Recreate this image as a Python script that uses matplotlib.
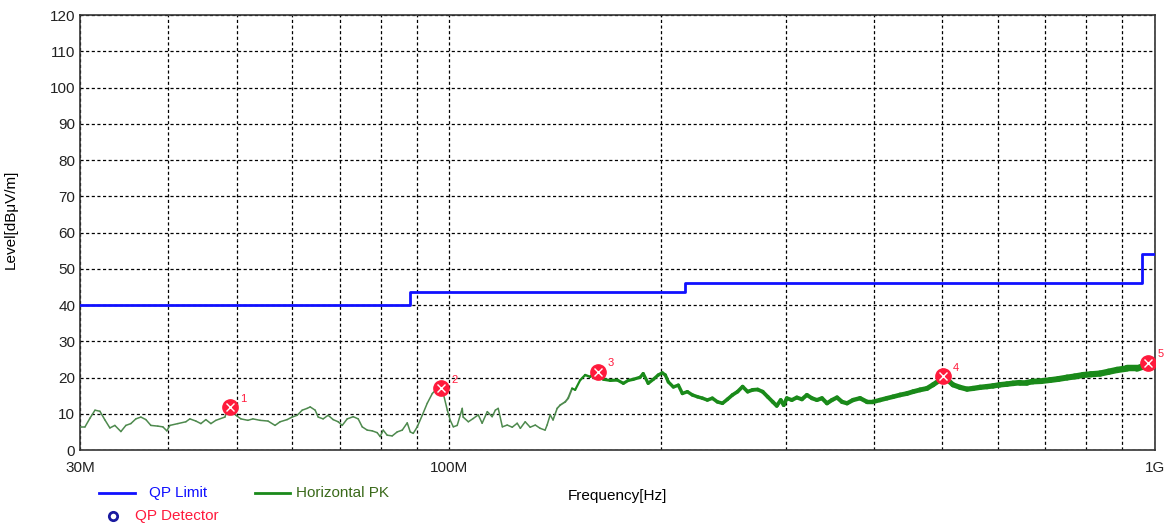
import numpy as np
import matplotlib
matplotlib.use("Agg")
import matplotlib.pyplot as plt
from matplotlib import ticker
from matplotlib.lines import Line2D
from matplotlib.collections import LineCollection

plt.rcParams['font.family'] = ['Liberation Sans', 'DejaVu Sans']

# QP limit (FCC class B style steps), MHz / dBuV/m
limit_freq = [30, 88, 88, 216, 216, 960, 960, 1000]
limit_level = [40, 40, 43.5, 43.5, 46, 46, 54, 54]

# Horizontal PK trace, MHz / dBuV/m
pk_freq = [30.0, 30.49, 30.99, 31.50, 32.01, 32.54, 33.07, 33.61, 34.28, 34.84,
           35.41, 35.99, 36.59, 37.19, 37.80, 38.67, 39.31, 39.82, 40.22, 41.28,
           42.37, 42.93, 43.78, 44.50, 45.23, 45.98, 46.73, 48.13, 48.60, 49.40,
           49.88, 50.71, 51.87, 52.73, 53.97, 55.40, 56.68, 57.62, 58.97, 59.94,
           60.93, 61.93, 62.95, 63.57, 64.61, 65.25, 66.31, 67.40, 68.51, 69.65,
           70.57, 71.73, 73.15, 74.35, 75.33, 76.57, 77.82, 79.10, 79.88, 80.67,
           81.72, 83.07, 84.43, 85.84, 87.25, 88.11, 88.98, 90.15, 91.63, 93.13,
           94.69, 96.24, 97.51, 98.14, 99.44, 100.4, 101.4, 102.7, 104.4, 104.7,
           106.5, 108.2, 110.0, 111.4, 113.3, 115.1, 116.3, 117.4, 119.0, 120.9,
           122.9, 124.9, 126.2, 128.2, 130.3, 132.5, 134.6, 136.8, 137.7, 139.1,
           140.4, 142.3, 143.7, 146.1, 147.5, 149.4, 150.9, 153.4, 155.9, 158.5,
           161.1, 162.7, 163.8, 165.4, 169.2, 173.2, 176.6, 179.4, 182.4, 186.6,
           188.4, 191.5, 194.7, 197.9, 200.5, 202.5, 204.5, 207.9, 211.3, 214.1,
           217.6, 221.2, 224.9, 228.6, 232.3, 236.1, 240.0, 244.0, 248.0, 252.1,
           256.3, 260.6, 264.9, 269.2, 273.7, 278.2, 282.8, 287.5, 291.3, 295.1,
           298.0, 301.0, 306.0, 311.0, 316.2, 321.4, 326.7, 332.1, 337.6, 343.2,
           348.8, 354.6, 360.4, 366.4, 373.6, 382.3, 391.1, 398.8, 408.0, 417.4,
           425.7, 435.5, 445.6, 454.4, 464.9, 475.6, 485.0, 496.2, 501.1, 507.7,
           517.7, 529.7, 542.0, 552.7, 565.5, 578.5, 590.0, 603.3, 617.3, 629.5,
           644.0, 658.9, 671.9, 690.0, 710.6, 730.0, 751.1, 770.0, 791.4, 812.0,
           836.5, 860.0, 884.1, 913.4, 943.7, 960.0, 977.9, 1000.0]
pk_level = [6.4, 6.4, 8.8, 11.0, 10.7, 8.3, 6.1, 6.8, 5.1, 6.8,
            7.3, 8.6, 9.1, 8.4, 6.8, 6.6, 6.4, 5.3, 6.8, 7.3,
            7.8, 8.6, 8.0, 7.3, 8.4, 7.3, 8.2, 9.1, 11.5, 11.9,
            9.6, 8.6, 8.2, 8.6, 8.2, 8.0, 6.8, 7.8, 8.4, 9.1,
            9.6, 11.0, 11.5, 11.9, 11.0, 9.1, 8.6, 9.6, 8.4, 7.8,
            6.8, 8.6, 9.2, 8.6, 6.4, 5.5, 5.3, 4.8, 3.7, 5.5,
            4.1, 3.9, 5.0, 5.5, 7.5, 5.0, 4.6, 6.4, 9.6, 12.9,
            15.6, 17.0, 17.2, 15.6, 11.0, 8.2, 6.4, 6.8, 11.5, 9.1,
            7.8, 8.7, 9.7, 7.4, 10.6, 9.2, 11.0, 11.5, 6.4, 6.9,
            6.3, 7.4, 6.0, 7.8, 6.3, 6.9, 6.0, 5.5, 6.9, 9.7,
            8.3, 11.5, 12.4, 13.3, 14.3, 17.0, 16.6, 19.3, 20.7, 20.2,
            21.6, 21.4, 21.1, 19.5, 19.2, 19.3, 18.4, 19.2, 19.5, 20.1,
            21.1, 18.4, 19.5, 20.7, 21.3, 20.7, 18.8, 17.4, 17.9, 15.6,
            16.1, 15.2, 14.7, 14.3, 13.8, 14.3, 13.3, 12.9, 14.0, 15.2,
            16.1, 17.5, 16.1, 16.6, 16.7, 16.1, 14.7, 13.3, 12.2, 13.8,
            12.4, 14.3, 13.8, 14.5, 14.0, 15.2, 14.3, 13.8, 14.3, 12.9,
            13.8, 14.5, 13.3, 12.9, 13.8, 14.3, 13.3, 13.3, 13.8, 14.3,
            14.7, 15.2, 15.6, 16.1, 16.6, 17.0, 18.0, 19.3, 19.8, 19.5,
            18.0, 17.3, 16.8, 17.0, 17.3, 17.5, 17.7, 18.0, 18.2, 18.4,
            18.6, 18.6, 18.9, 19.0, 19.3, 19.6, 20.0, 20.3, 20.7, 20.9,
            21.1, 21.6, 22.1, 22.5, 22.5, 23.0, 23.4, 23.7]

# QP detector markers
mark_freq = [48.92, 97.51, 162.7, 501.1, 977.9]
mark_level = [11.8, 17.0, 21.6, 20.4, 24.0]
mark_label = ['1', '2', '3', '4', '5']

fig = plt.figure(figsize=(11.7, 5.27), dpi=100)
ax = fig.add_axes([0.0684, 0.146, 0.9186, 0.8255])

blue = '#1010ff'
green = '#1a8a1a'
red = '#ff1a3c'

ax.plot(limit_freq, limit_level, color=blue, lw=2.0, zorder=3)

# trace drawn as segments so the dense high-frequency sweep looks thicker
pf = np.array(pk_freq)
pl = np.array(pk_level)
pts = np.column_stack([pf, pl]).reshape(-1, 1, 2)
segs = np.concatenate([pts[:-1], pts[1:]], axis=1)
fmid = np.sqrt(pf[:-1] * pf[1:])
widths = np.interp(np.log10(fmid), np.log10([30, 140, 170, 350, 1000]),
                   [1.1, 1.1, 2.2, 3.0, 4.8])
cols = np.where(fmid < 150, '#4e8a4e', green)
lc = LineCollection(segs, linewidths=widths, colors=cols, zorder=3,
                    capstyle='round', joinstyle='round')
ax.add_collection(lc)

ax.plot(mark_freq, mark_level, 'o', ms=11, color=red, mec=red, zorder=4)
ax.plot(mark_freq, mark_level, 'x', ms=6, color='white', mew=1.0, zorder=5)
for f, l, t in zip(mark_freq, mark_level, mark_label):
    ax.annotate(t, (f, l), xytext=(7, 4), textcoords='offset points',
                color=red, fontsize=8, zorder=6)

ax.set_xscale('log')
ax.set_xlim(30, 1000)
ax.set_ylim(0, 120)
ax.set_yticks(np.arange(0, 121, 10))
ax.xaxis.set_major_locator(ticker.FixedLocator([30, 100, 1000]))
ax.xaxis.set_major_formatter(ticker.FixedFormatter(['30M', '100M', '1G']))
ax.xaxis.set_minor_locator(ticker.FixedLocator(
    [40, 50, 60, 70, 80, 90, 200, 300, 400, 500, 600, 700, 800, 900]))
ax.xaxis.set_minor_formatter(ticker.NullFormatter())
ax.grid(True, which='both', color='black', ls=(0, (2.5, 2)), lw=0.9)
ax.tick_params(axis='both', which='both', length=0, labelsize=11, colors='#222222')
ax.tick_params(axis='x', pad=8)
for s in ax.spines.values():
    s.set_color('#333333')
    s.set_linewidth(1.2)

ax.set_ylabel('Level[dBμV/m]', fontsize=11)
ax.yaxis.set_label_coords(-0.058, 0.53)
ax.set_xlabel('Frequency[Hz]', fontsize=11, labelpad=10)

# legend below the plot
fig.add_artist(Line2D([0.085, 0.115], [0.064, 0.064], color=blue, lw=2))
fig.text(0.127, 0.064, 'QP Limit', color=blue, fontsize=11, va='center')
fig.add_artist(Line2D([0.218, 0.248], [0.064, 0.064], color=green, lw=2))
fig.text(0.253, 0.064, 'Horizontal PK', color='#3a6a1a', fontsize=11, va='center')
fig.add_artist(Line2D([0.0965], [0.021], marker='o', ms=6, mfc='none',
                      mec='#1a1aa0', mew=2, lw=0))
fig.text(0.115, 0.021, 'QP Detector', color=red, fontsize=11, va='center')

fig.savefig('out.png', dpi=100)
